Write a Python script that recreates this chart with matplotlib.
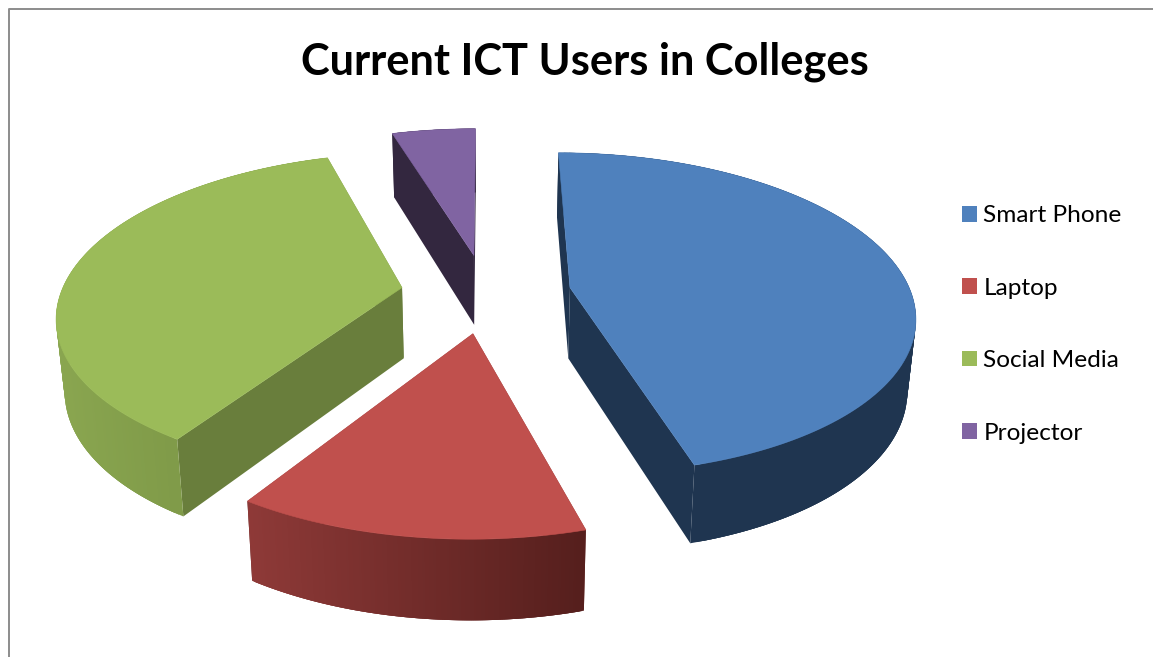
# ICT usage in colleges, drawn as an exploded pie with perspective
import numpy as np
import matplotlib
matplotlib.use("Agg")
import matplotlib.pyplot as plt
from matplotlib.patches import Patch, Polygon

title = "Current ICT Users in Colleges"
labels = ["Smart Phone", "Laptop", "Social Media", "Projector"]
values = [45.6, 13.5, 36.2, 4.7]

top_colors = ["#4F81BD", "#C0504D", "#9BBB59", "#8064A2"]
cut_colors = ["#1F3550", "#6A2A28", "#697E3C", "#33273F"]
rim_left = ["#1F3550", "#8F3A38", "#8AA650", "#33273F"]
rim_right = ["#1F3550", "#561F1D", "#748E40", "#33273F"]

# projection of the pie plane on to the figure, in pixels
cx, cy = 486, 293
rx, ry = 341, 158
persp = 0.16
explode = 0.25
depth = 71
bottom_shrink = 0.98


def project(x, y):
    w = 1 + persp * y
    return cx + rx * x / w, cy - ry * y / w, w


def top_and_bottom(x, y):
    px, py, w = project(x, y)
    qx = cx + (px - cx) * bottom_shrink
    qy = py + depth * w ** -0.6
    return np.column_stack([px, py]), np.column_stack([qx, qy])


def hex_mix(c1, c2, t):
    a = np.array(matplotlib.colors.to_rgb(c1))
    b = np.array(matplotlib.colors.to_rgb(c2))
    return a + (b - a) * t


fig = plt.figure(figsize=(11.53, 6.57), dpi=100)
ax = fig.add_axes([0, 0, 1, 1])
ax.set_xlim(0, 1153)
ax.set_ylim(657, 0)
ax.axis("off")

# slice angles run clockwise from twelve o'clock
edges = np.cumsum([0] + values) / sum(values) * 2 * np.pi

# far slices go first so the near ones sit on top of them
for i in [3, 2, 0, 1]:
    t0, t1 = edges[i], edges[i + 1]
    mid = (t0 + t1) / 2
    ox, oy = explode * np.sin(mid), explode * np.cos(mid)

    t = np.linspace(t0, t1, 160)
    arc_top, arc_bot = top_and_bottom(ox + np.sin(t), oy + np.cos(t))
    apex_top, apex_bot = top_and_bottom(np.array([ox]), np.array([oy]))

    # the two cut faces
    for k in [0, -1]:
        face = [apex_top[0], arc_top[k], arc_bot[k], apex_bot[0]]
        ax.add_patch(Polygon(face, closed=True, fc=cut_colors[i], ec="none"))

    # outer wall, shaded from left to right on screen; strips are painted
    # from the left and overlap, so no seams show between them
    xmin, xmax = arc_top[:, 0].min(), arc_top[:, 0].max()
    order = np.argsort(arc_top[:, 0])
    for j in order:
        if j + 3 >= len(t):
            continue
        f = (arc_top[j, 0] - xmin) / (xmax - xmin)
        col = hex_mix(rim_left[i], rim_right[i], f)
        strip = [arc_top[j], arc_top[j + 3], arc_bot[j + 3], arc_bot[j]]
        ax.add_patch(Polygon(strip, closed=True, fc=col, ec="none"))

    outline = np.vstack([apex_top, arc_top])
    ax.add_patch(Polygon(outline, closed=True, fc=top_colors[i], ec=top_colors[i], lw=0.4))

ax.text(585, 62, title, fontsize=31.2, fontweight="bold", family="Lato",
        ha="center", va="center", color="black")

# chart area border, only the top and left show
ax.plot([8.5, 8.5, 1153], [657, 8.5, 8.5], color="#8C8C8C", lw=1.4)

handles = [Patch(fc=c, ec="none") for c in top_colors]
ax.legend(handles, labels, loc="center left", bbox_to_anchor=(962 / 1153, 1 - 324.5 / 657),
          frameon=False, prop={"family": "Lato", "size": 17.6},
          handlelength=0.62, handleheight=0.62, handletextpad=0.25,
          labelspacing=2.1, borderpad=0, borderaxespad=0)

fig.savefig("out.png", dpi=100)
